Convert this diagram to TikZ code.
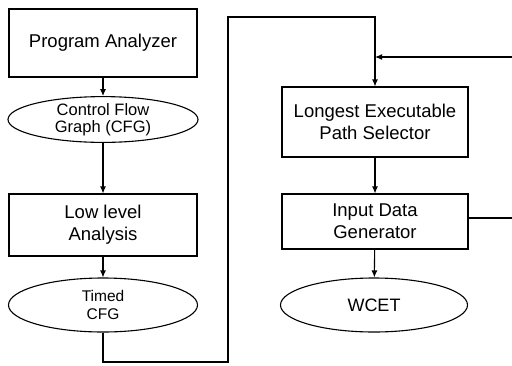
\documentclass[tikz,border=0pt]{standalone}
\usepackage{fontspec}
\setmainfont{Liberation Sans}
\usetikzlibrary{arrows.meta,shapes.geometric}
\begin{document}
\begin{tikzpicture}[x=1pt,y=-1pt,
  every path/.style={line width=1.1pt},
  box/.style={draw,rectangle,inner sep=0pt,align=center,line width=1.1pt,font=\fontsize{18.5}{22}\selectfont},
  oval/.style={draw,ellipse,inner sep=0pt,align=center,line width=1.1pt,font=\fontsize{16.5}{17}\selectfont},
  conn/.style={-{Latex[length=7pt,width=6pt]},line width=1.1pt}]
\useasboundingbox (0,0) rectangle (512,365);
% left column
\node[box,minimum width=188pt,minimum height=68pt] (pa) at (103,43) {Program Analyzer};
\node[oval,minimum width=190pt,minimum height=45pt] (cfg) at (103,119.5) {Control Flow\\Graph (CFG)};
\node[box,minimum width=188pt,minimum height=62pt] (lla) at (103,225) {Low level\\Analysis};
\node[oval,minimum width=189pt,minimum height=54pt,font=\fontsize{15.5}{18}\selectfont] (tcfg) at (103,305) {Timed\\CFG};
% right column
\node[box,minimum width=186pt,minimum height=70pt] (lep) at (375,122) {Longest Executable\\Path Selector};
\node[box,minimum width=186pt,minimum height=55pt] (idg) at (375,221.5) {Input Data\\Generator};
\node[oval,minimum width=187pt,minimum height=54pt,font=\fontsize{18}{20}\selectfont] (wcet) at (374,305) {WCET};
% coordinates
\coordinate (b1) at (103,362);
\coordinate (b2) at (228,362);
\coordinate (t1) at (228,17);
\coordinate (t2) at (375,17);
\coordinate (join) at (375,57);
\coordinate (rtop) at (512,57);
\coordinate (rbot) at (512,218);
% connectors
\draw[conn] (pa) -- (cfg);
\draw[conn] (cfg) -- (lla);
\draw[conn] (lla) -- (tcfg);
\draw[conn] (tcfg.south) -- (b1) -- (b2) -- (t1) -- (t2) -- (lep.north);
\draw[conn] (lep) -- (idg);
\draw[conn] (idg) -- (wcet);
\draw (idg.east |- rbot) -- (rbot);
\draw[conn] (rtop) -- (join);
\end{tikzpicture}
\end{document}
